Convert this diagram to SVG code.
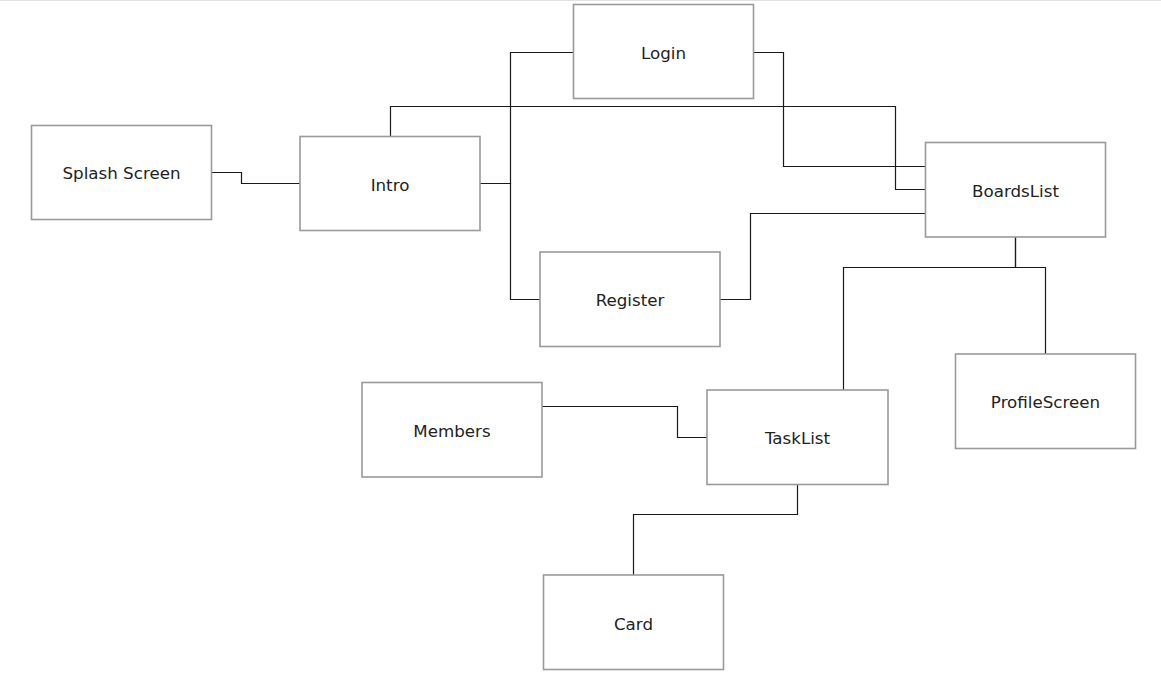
<svg xmlns="http://www.w3.org/2000/svg" width="1161" height="687" viewBox="0 0 1161 687">
<style>
.box{fill:#fff;stroke:#9a9a9a;stroke-width:1.6}
.lbl{font-family:"DejaVu Sans",Verdana,sans-serif;font-size:16.7px;fill:#222;text-anchor:middle}
.conn path{fill:none;stroke:#1a1a1a;stroke-width:1.2}
</style>
<rect x="0" y="0" width="1161" height="687" fill="#fff"/>
<line x1="0" y1="0.5" x2="1161" y2="0.5" stroke="#e2e2e2" stroke-width="1"/>
<g class="conn" id="connectors">
<path d="M211 172.5 H241.5 V183.5 H300"/>
<path d="M480 183.5 H510.5 V52.5 H573"/>
<path d="M480 183.5 H510.5 V299.5 H540"/>
<path d="M390.5 136 V106.5 H895.5 V189.5 H925"/>
<path d="M753 52.5 H783.5 V166.5 H925"/>
<path d="M720 299.5 H750.5 V213.5 H925"/>
<path d="M1015.5 237 V267.5 H843.5 V390"/>
<path d="M1015.5 237 V267.5 H1045.5 V354"/>
<path d="M542 406.5 H677.5 V437.5 H707"/>
<path d="M797.5 485 V514.5 H633.5 V575"/>
</g>
<g id="splash"><rect class="box" x="31.5" y="125.5" width="180" height="94"/><text class="lbl" x="121.5" y="179">Splash Screen</text></g>
<g id="intro"><rect class="box" x="300" y="136.5" width="180" height="94"/><text class="lbl" x="390" y="191">Intro</text></g>
<g id="login"><rect class="box" x="573.5" y="4.5" width="180" height="94"/><text class="lbl" x="663.5" y="59">Login</text></g>
<g id="register"><rect class="box" x="540" y="252" width="180" height="94.5"/><text class="lbl" x="630" y="306">Register</text></g>
<g id="boardslist"><rect class="box" x="925.5" y="142.5" width="180" height="94.5"/><text class="lbl" x="1015.5" y="197">BoardsList</text></g>
<g id="profilescreen"><rect class="box" x="955.5" y="354" width="180" height="94.5"/><text class="lbl" x="1045.5" y="408">ProfileScreen</text></g>
<g id="members"><rect class="box" x="362" y="382.5" width="180" height="94.5"/><text class="lbl" x="452" y="437">Members</text></g>
<g id="tasklist"><rect class="box" x="707" y="390" width="181" height="94.5"/><text class="lbl" x="797.5" y="444">TaskList</text></g>
<g id="card"><rect class="box" x="543.5" y="575" width="180" height="94.5"/><text class="lbl" x="633.5" y="630">Card</text></g>
</svg>
